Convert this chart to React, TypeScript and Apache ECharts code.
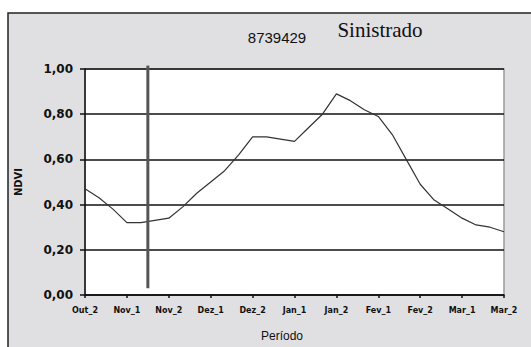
import React, { useEffect, useRef } from "react";
import * as echarts from "echarts";

const tickLabels = ["Out_2", "Nov_1", "Nov_2", "Dez_1", "Dez_2", "Jan_1", "Jan_2", "Fev_1", "Fev_2", "Mar_1", "Mar_2"];
const ndvi = [
  0.47, 0.43, 0.38, 0.32, 0.32, 0.33, 0.34, 0.39, 0.45, 0.5, 0.55,
  0.62, 0.7, 0.7, 0.69, 0.68, 0.74, 0.8, 0.89, 0.86, 0.82,
  0.79, 0.71, 0.6, 0.49, 0.42, 0.38, 0.34, 0.31, 0.3, 0.28,
];
const pointsPerLabel = 3;
const markerPosition = 4.5;
const markerRange = [0.03, 1.015];

export default function App() {
  const ref = useRef<HTMLDivElement>(null);
  useEffect(() => {
    if (!ref.current) return;
    const chart = echarts.init(ref.current, null, { renderer: "svg" });
    const maxX = (tickLabels.length - 1) * pointsPerLabel;
    chart.setOption({
      animation: false,
      backgroundColor: "#ffffff",
      graphic: [
        {
          type: "rect",
          z: -10,
          silent: true,
          shape: { x: 8, y: 13, width: 600, height: 400 },
          style: { fill: "#e0e0e3", stroke: "#222", lineWidth: 1.5 },
        },
        {
          type: "text",
          x: 277,
          y: 37,
          style: { text: "8739429", font: "15px 'Liberation Sans'", fill: "#111", align: "center", verticalAlign: "middle" },
        },
        {
          type: "text",
          x: 380,
          y: 30,
          style: { text: "Sinistrado", font: "21px 'Liberation Serif'", fill: "#111", align: "center", verticalAlign: "middle" },
        },
      ],
      grid: {
        left: 85,
        right: 27,
        top: 69,
        bottom: 52,
        show: true,
        backgroundColor: "#ffffff",
        borderColor: "#9a9a9a",
        borderWidth: 1.5,
      },
      xAxis: {
        type: "value",
        min: 0,
        max: maxX,
        interval: pointsPerLabel,
        name: "Período",
        nameLocation: "middle",
        nameGap: 35,
        nameTextStyle: { fontFamily: "'Liberation Sans'", fontSize: 12, color: "#111", padding: [0, 25, 0, 0] },
        axisLine: { lineStyle: { color: "#111", width: 1.5 } },
        axisTick: { show: true, length: 3, lineStyle: { color: "#111", width: 1.5 } },
        axisLabel: {
          margin: 11,
          fontFamily: "'DejaVu Sans'",
          fontWeight: "bold",
          fontSize: 8,
          color: "#111",
          formatter: (v: number) => tickLabels[Math.round(v / pointsPerLabel)] ?? "",
        },
        splitLine: { show: false },
      },
      yAxis: {
        type: "value",
        min: 0,
        max: 1,
        interval: 0.2,
        name: "NDVI",
        nameLocation: "middle",
        nameRotate: 90,
        nameGap: 62,
        nameTextStyle: { fontFamily: "'DejaVu Sans'", fontWeight: "bold", fontSize: 10, color: "#111" },
        axisLine: { show: true, lineStyle: { color: "#111", width: 1.5 } },
        axisTick: { show: true, length: 5, lineStyle: { color: "#111", width: 1.5 } },
        axisLabel: {
          margin: 12,
          fontFamily: "'DejaVu Sans'",
          fontWeight: "bold",
          fontSize: 12,
          color: "#111",
          formatter: (v: number) => v.toFixed(2).replace(".", ","),
        },
        splitLine: { show: true, lineStyle: { color: "#111", width: 1.5 } },
      },
      series: [
        {
          type: "line",
          data: ndvi.map((v, i) => [i, v]),
          showSymbol: false,
          symbol: "none",
          lineStyle: { color: "#333", width: 1.2 },
        },
        {
          type: "line",
          clip: false,
          silent: true,
          symbol: "none",
          showSymbol: false,
          data: markerRange.map((v) => [markerPosition, v]),
          lineStyle: { color: "#555", width: 3 },
        },
      ],
    });
    return () => chart.dispose();
  }, []);
  return <div ref={ref} style={{ position: "absolute", left: 0, top: 0, width: 531, height: 347 }} />;
}
